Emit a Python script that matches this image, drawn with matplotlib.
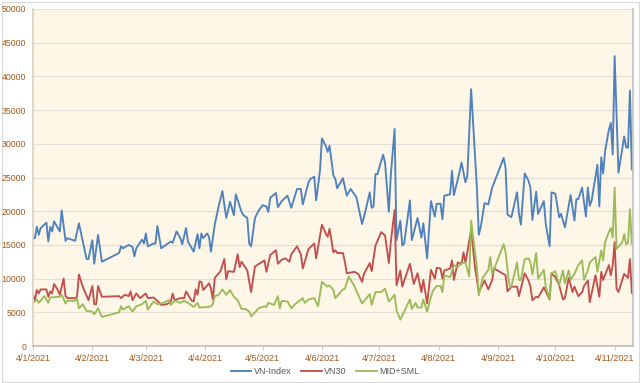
import matplotlib
matplotlib.use("Agg")
import matplotlib.pyplot as plt
import pandas as pd
from matplotlib.patches import Rectangle

plt.rcParams['font.family'] = ['Liberation Sans', 'DejaVu Sans']

start_date = "2021-01-04"

vnindex_days = [0, 1, 2, 3, 4, 7, 8, 9, 10, 11, 14, 15, 17, 18, 22, 24, 28, 29, 31, 32, 34, 36,
                45, 46, 47, 50, 52, 53, 54, 57, 58, 59, 60, 63, 64, 65, 67, 72, 73, 75, 77, 78,
                80, 81, 84, 86, 87, 88, 89, 91, 92, 93, 95, 97, 99, 101, 103, 105, 106, 109,
                110, 112, 113, 114, 116, 118, 120, 122, 123, 124, 127, 128, 130, 133, 135, 138,
                140, 141, 144, 145, 147, 148, 150, 151, 153, 154, 155, 157, 158, 159, 162, 164,
                166, 169, 172, 174, 176, 177, 178, 179, 180, 183, 184, 186, 187, 189, 190, 192,
                193, 194, 197, 198, 201, 203, 204, 206, 208, 210, 211, 213, 214, 215, 218, 219,
                220, 222, 224, 226, 227, 229, 232, 233, 234, 236, 238, 240, 246, 247, 248, 250,
                253, 254, 255, 257, 259, 260, 261, 263, 264, 267, 268, 270, 271, 273, 275, 276,
                278, 281, 283, 284, 285, 287, 289, 290, 291, 292, 295, 296, 297, 298, 299, 301,
                302, 303, 304, 306, 309, 310, 311, 312, 313]
vnindex = [16000, 16000, 17700, 16500, 17500, 18300, 15500, 17700, 17000, 18500, 17000, 20100,
           15600, 16000, 15600, 18200, 12900, 12900, 15700, 12200, 16500, 12500,
           13800, 14800, 14500, 15000, 14700, 13300, 14500, 15800, 15200, 16700, 14800, 15200,
           15200, 17800, 14500, 15500, 15300, 17000, 16000, 15100,
           17500, 15500, 14000, 16600, 14500, 16700, 16000, 16700, 16200, 14000, 18000, 20700,
           23000, 19000, 21400, 19400, 22500, 19900,
           19400, 19000, 15200, 14800, 19000, 20100, 20900, 20700, 19900, 22000, 22700, 20600,
           21500, 22300, 20500, 23300,
           23300, 21000, 24300, 24800, 25100, 21600, 26000, 30800, 29700, 28800, 29700, 25300,
           24800, 23400, 24900, 22300,
           23300, 22100, 18100, 20300, 22800, 20500, 20700, 25500, 25500, 28400, 27200, 19900,
           25300, 32200, 15700, 18600,
           14900, 15200, 21600, 15700, 19000, 16100, 18200, 13000, 21500, 19200, 21100, 21100,
           18800, 22300, 22500, 26000,
           22400, 24700, 27200, 24300, 25200, 38100, 23500, 16500, 17600, 21200, 21000, 23500,
           27900, 26400, 19500, 19100,
           22800, 19600, 18000, 25600, 24500, 23500, 18700, 22900, 19600, 21500, 18100, 14800,
           22800, 22600, 19100, 19600,
           17600, 22400, 18600, 21800, 21800, 23500, 19200, 23500, 20800, 21600, 26900, 20700,
           28000, 25600, 28900, 32100,
           33100, 28400, 43000, 25700, 31100, 29500, 29400, 37900, 26200]

vn30_days = [0, 1, 2, 3, 4, 7, 8, 9, 10, 11, 13, 14, 16, 17, 18, 22, 23, 24, 26, 29, 31, 32, 33,
             34, 36, 45, 46, 48, 50, 51, 52, 54, 56, 59, 60, 63, 65, 67, 70, 72, 73, 74, 77, 79,
             80, 83, 84, 85, 86, 87, 88, 89, 92, 93, 94, 95, 98, 100, 101, 102, 105, 107, 108,
             109, 112, 114, 116, 121, 122, 124, 127, 128, 130, 132, 134, 135, 138, 140, 141,
             144, 147, 148, 151, 153, 154, 155, 157, 158, 159, 162, 163, 164, 168, 170, 172,
             173, 176, 177, 179, 182, 184, 186, 187, 189, 190, 192, 193, 197, 199, 201, 203,
             204, 206, 208, 210, 211, 213, 214, 215, 218, 219, 220, 222, 224, 225, 226, 229,
             231, 233, 236, 238, 240, 241, 247, 248, 250, 253, 254, 257, 259, 260, 261, 263,
             264, 267, 269, 270, 271, 273, 275, 277, 278, 280, 282, 283, 285, 287, 288, 290,
             291, 294, 296, 297, 298, 301, 302, 303, 304, 305, 306, 309, 311, 312, 313]
vn30 = [7600, 6800, 8300, 7800, 8400, 8400, 7300, 8100, 7800, 9200, 8300, 7600, 10000, 7400, 7100,
        7100, 7300, 10600, 8800, 6800, 8900, 6200, 6200,
        8900, 7300, 7400, 7100, 7600, 7400, 8100, 6800, 7800, 7100, 7800, 7100, 7200, 6700, 6100,
        6200, 6600, 7800, 6800, 7100, 7100,
        8100, 6700, 6600, 8400, 7600, 9600, 9500, 8300, 9300, 8600, 6900, 10100, 11100, 12900,
        9900, 11100, 11000, 13600, 11700,
        12500, 11200, 8000, 11800, 12700, 11000, 13500, 14200, 12200, 12800, 13000, 12500, 13600,
        14800, 13600, 11500,
        14400, 15200, 13000, 18000, 16700, 16200, 17400, 13900, 14200, 13800, 13800, 12500, 10800,
        11000, 10700, 9500,
        10700, 12300, 11100, 14900, 16900, 16400, 12300, 15400, 20200, 9000, 11200, 8800, 12200,
        9200, 10800, 8000,
        9800, 6300, 11300, 10000, 11600, 11500, 10000, 11200, 11500, 12700, 9800, 12400, 12200,
        13900, 12300, 17200,
        11700, 8000, 9700, 8400, 9800, 11500, 10500, 8100, 8800, 8800, 7400, 10800, 9700, 8800,
        6800, 7300,
        7200, 8700, 7500, 6900, 10800, 10200, 9000, 6900, 7100, 10100, 8000, 8800, 7400, 8000,
        8900, 9700,
        6500, 10500, 7300, 11000, 9800, 12000, 10500, 12000, 15400, 8500, 8000, 10700, 10100,
        12900, 7900]

midsml_days = [0, 2, 3, 6, 8, 9, 14, 15, 17, 18, 22, 23, 24, 26, 28, 31, 32, 34, 36, 45, 46, 47,
               50, 52, 54, 57, 59, 60, 63, 65, 68, 71, 72, 74, 77, 79, 81, 84, 86, 87, 92, 93,
               94, 95, 97, 99, 101, 103, 105, 107, 109, 111, 113, 114, 118, 121, 122, 123, 126,
               128, 129, 130, 133, 135, 137, 141, 142, 144, 147, 149, 151, 154, 155, 157, 158,
               162, 163, 165, 168, 169, 172, 176, 177, 179, 182, 184, 186, 189, 190, 192, 197,
               198, 200, 201, 203, 204, 206, 208, 209, 211, 213, 214, 215, 218, 220, 222, 224,
               226, 228, 229, 232, 233, 235, 238, 239, 240, 246, 247, 249, 250, 253, 254, 255,
               257, 259, 260, 261, 263, 264, 267, 268, 270, 271, 273, 275, 277, 278, 280, 281,
               283, 285, 287, 288, 290, 291, 294, 295, 297, 298, 299, 301, 302, 303, 304, 305,
               308, 309, 310, 311, 312, 313]
midsml = [6400, 6900, 6400, 7400, 6400, 7200, 7300, 7600, 6300, 6700, 6700, 7100, 5600, 6200,
          5200, 5100, 4700, 5600, 4300, 5000, 5900, 5400,
          5900, 5100, 5900, 6200, 6700, 5400, 6600, 6200, 6400, 6800, 6100, 6700, 6400, 6700,
          6400, 5800, 6400, 5700, 5800, 5900,
          6200, 7400, 7600, 8400, 7600, 8300, 7300, 6800, 5500, 5500, 5100, 4400, 5600, 5900,
          5800, 6400, 6100,
          7400, 5600, 6700, 6600, 5600, 6200, 7100, 6400, 6900, 7100, 5900, 9500, 8800, 9000,
          8300, 7100,
          8400, 8500, 10300, 8900, 8200, 6300, 7700, 6100, 8000, 8000, 8500, 6600, 7600, 5300,
          3900, 6900,
          5500, 6400, 5700, 5700, 6900, 5100, 7300, 8200, 8900, 8900, 8000, 10500, 10200, 12000,
          11700, 12300,
          12400, 10300, 18600, 11700, 7500, 10100, 11300, 13200, 10700, 15100, 13900, 9000, 8800,
          12400, 9800, 9800,
          12900, 13000, 12400, 10600, 13800, 10000, 11300, 8800, 7000, 10800, 11100, 9000, 11200,
          9300, 11200, 9800,
          10700, 12000, 12700, 9800, 11200, 12400, 13200, 11000, 14200, 12700, 15400, 16900,
          17500, 16100, 23500, 14400,
          15400, 16600, 15100, 15300, 20300, 15200]

series_names = ["VN-Index", "VN30", "MID+SML"]
tick_dates = ["2021-01-04", "2021-02-04", "2021-03-04", "2021-04-04", "2021-05-04", "2021-06-04",
              "2021-07-04", "2021-08-04", "2021-09-04", "2021-10-04", "2021-11-04"]
tick_labels = ["4/1/2021", "4/2/2021", "4/3/2021", "4/4/2021", "4/5/2021", "4/6/2021",
               "4/7/2021", "4/8/2021", "4/9/2021", "4/10/2021", "4/11/2021"]
y_ticks = [0, 5000, 10000, 15000, 20000, 25000, 30000, 35000, 40000, 45000, 50000]

base = pd.Timestamp(start_date)
def to_dates(days):
    return base + pd.to_timedelta(days, unit="D")

fig = plt.figure(figsize=(6.4, 3.83), dpi=100)
fig.patch.set_facecolor("white")
fig.patches.append(Rectangle((1.5 / 640, 1.5 / 383), 637 / 640, 380 / 383, transform=fig.transFigure,
                             fill=False, edgecolor="#D9D9D9", lw=0.8, zorder=-1))
ax = fig.add_axes([33 / 640, 1 - 346 / 383, 600 / 640, 337 / 383])
ax.set_facecolor("#FEF6E7")

colors = ["#4F81BD", "#C0504D", "#9BBB59"]
for days, vals, name, c in [(vnindex_days, vnindex, series_names[0], colors[0]),
                            (vn30_days, vn30, series_names[1], colors[1]),
                            (midsml_days, midsml, series_names[2], colors[2])]:
    ax.plot(to_dates(days), vals, color=c, lw=1.35, label=name, solid_joinstyle="round")

ax.set_ylim(0, 50000)
ax.set_xlim(base, base + pd.Timedelta(days=313.6))
ax.set_yticks(y_ticks)
ax.set_yticklabels([str(v) for v in y_ticks])
ax.set_xticks(pd.to_datetime(tick_dates))
ax.set_xticklabels(tick_labels)

lab_color = "#A4581B"
ax.tick_params(axis="y", length=0, pad=5, labelsize=6.3, labelcolor=lab_color)
ax.tick_params(axis="x", length=3, width=0.6, color="#BFBFBF", pad=3, labelsize=6.5,
               labelcolor=lab_color)
ax.grid(axis="y", color="#E2DDD5", lw=0.8)
ax.set_axisbelow(True)
ax.spines["top"].set_visible(False)
ax.spines["left"].set_color("#D9CFC2")
ax.spines["bottom"].set_color("#BFBFBF")
ax.spines["right"].set_color("#BFBFBF")
for s in ["left", "bottom", "right"]:
    ax.spines[s].set_linewidth(1.2)

leg = fig.legend(loc="center", bbox_to_anchor=(325 / 640, 1 - 372 / 383), ncol=3, frameon=False,
                 fontsize=6.5, handlelength=2.3, columnspacing=1.0, handletextpad=0.3)
for t in leg.get_texts():
    t.set_color("#595959")

fig.savefig("out.png", dpi=100)
